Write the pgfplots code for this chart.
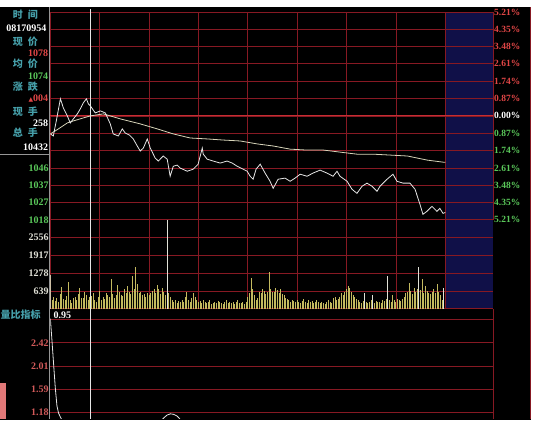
\documentclass[border=0pt]{standalone}
\usepackage{pgfplots}
\pgfplotsset{compat=1.18}
\usepackage{fontspec}
\setmainfont{Liberation Serif}
\newfontfamily\cjk{Noto Sans CJK SC}
\newfontfamily\sym{DejaVu Sans}

\definecolor{gridred}{RGB}{135,25,35}
\definecolor{gridhi}{RGB}{200,45,50}
\definecolor{navy}{RGB}{16,16,72}
\definecolor{upred}{RGB}{225,70,70}
\definecolor{dngreen}{RGB}{90,200,90}
\definecolor{cyanlab}{RGB}{70,160,170}
\definecolor{vol}{RGB}{195,185,95}
\definecolor{volwhite}{RGB}{225,225,215}
\definecolor{ltgray}{RGB}{150,150,150}
\definecolor{lowred}{RGB}{210,90,90}
\definecolor{pricew}{RGB}{230,230,230}
\definecolor{avgline}{RGB}{215,212,185}
\definecolor{pinkbox}{RGB}{225,120,120}

\pgfplotsset{
  panel/.style={
    scale only axis, width=443pt, anchor=south west,
    xmin=0, xmax=269,
    axis line style={draw=none}, tick style={draw=none},
    xtick={0,30,...,240}, xticklabel=\empty,
    grid=major, major grid style={gridred, line width=0.7pt},
    ticklabel style={font=\fontsize{10}{10}\selectfont\bfseries},
    yticklabel style={inner xsep=1.5pt},
  },
}

\begin{document}
\begin{tikzpicture}[x=1pt,y=1pt]
\fill[white] (0,0) rectangle (536,423);
\fill[black] (0,3) rectangle (531,416);

% dark blue block after the close
\begin{axis}[scale only axis, width=443pt, height=297pt, at={(50pt,114pt)},
  anchor=south west, xmin=0, xmax=269, ymin=0, ymax=1, hide axis]
\addplot[fill=navy, draw=none] coordinates {(240,0) (269,0) (269,1) (240,1)} -- cycle;
\end{axis}

% price panel
\begin{axis}[panel, height=208pt, at={(50pt,203pt)},
  ymin=1018.04, ymax=1129.96,
  ytick={1018.04,1027.28,1036.62,1045.97,1055.31,1064.66,1074,1083.34,1092.69,1102.03,1111.38,1120.72,1129.96},
  yticklabels={1018,1027,1037,1046,{},{},{},{},{},{},{},{},{}},
  yticklabel style={color=dngreen},
  extra y ticks={1018.04,1074}, extra y tick labels={},
  extra y tick style={grid=major, major grid style={gridhi, line width=1.1pt}, tick style={draw=none}}]
% average price
\addplot[color=avgline, line width=0.8pt] coordinates {
(0,1064.3) (4.9,1067.0) (10.3,1070.2) (14.0,1071.3) (20.0,1072.9) (24.3,1074.0)
(32.2,1075.1) (36.4,1074.0) (42.5,1072.4) (54.6,1069.7) (65.0,1067.0) (74.7,1064.3)
(85.0,1062.1) (95.3,1061.6) (105.0,1061.0) (115.4,1060.5) (125.8,1058.9) (135.4,1057.8)
(145.7,1056.1) (156.0,1055.6) (166.0,1055.6) (176.0,1054.5) (186.3,1053.4) (196.0,1053.4)
(206.6,1052.9) (217.0,1052.4) (223.0,1051.3) (229.0,1050.2) (238.6,1049.1) (240,1049.0)
};
% last price
\addplot[color=pricew, line width=0.8pt] coordinates {
(0,1064.3) (1.8,1063.2) (3.6,1071.3) (6.1,1083.2) (7.9,1078.3) (10.3,1074.0) (12.1,1070.2)
(14.0,1072.4) (16.4,1075.1) (18.2,1077.8) (20.0,1081.0) (21.9,1083.2) (23.1,1080.5)
(24.3,1079.4) (27.3,1075.6) (30.4,1076.7) (33.4,1075.6) (36.4,1069.7) (38.2,1064.3)
(41.3,1063.2) (43.7,1067.0) (45.5,1064.8) (48.0,1063.7) (50.4,1061.6) (52.8,1057.8)
(54.6,1055.1) (56.5,1056.7) (58.9,1061.6) (60.7,1056.7) (63.7,1051.3) (65.6,1049.7)
(68.6,1052.4) (71.0,1050.7) (72.8,1041.5) (74.7,1046.9) (77.1,1047.5) (78.9,1045.9)
(83.2,1044.2) (86.8,1045.3) (89.8,1048.0) (92.3,1056.7) (92.9,1053.4) (95.3,1050.7)
(98.9,1049.7) (103.2,1048.6) (107.4,1049.7) (110.5,1048.6) (113.5,1046.9) (117.2,1045.3)
(119.6,1044.2) (121.4,1041.5) (123.2,1039.9) (125.0,1045.3) (127.5,1048.0) (130.5,1043.2)
(133.5,1038.8) (135.4,1035.0) (138.4,1039.9) (142.6,1040.5) (145.7,1038.8) (148.7,1040.5)
(151.8,1042.6) (156.0,1041.5) (159.6,1043.2) (163.9,1044.8) (168.1,1043.2) (171.8,1041.5)
(174.2,1044.2) (176.0,1041.5) (180.3,1038.8) (183.3,1034.5) (186.3,1032.3) (189.4,1036.1)
(192.4,1037.8) (195.5,1036.1) (198.5,1033.4) (200.3,1036.1) (204.6,1039.9) (208.2,1042.6)
(210.6,1038.8) (214.3,1037.8) (218.5,1037.8) (221.6,1034.5) (224.6,1026.4) (226.4,1021.0)
(228.8,1022.6) (231.9,1025.3) (234.9,1022.6) (236.7,1024.2) (238.6,1021.5) (240,1022.0)
};
\end{axis}

% percent scale on the right
\begin{axis}[scale only axis, width=443pt, height=208pt, at={(50pt,203pt)},
  anchor=south west, xmin=0, xmax=269, ymin=1018.04, ymax=1129.96,
  axis x line=none, axis y line*=right,
  axis line style={gridred, line width=0.8pt}, tick style={draw=none},
  ytick={1018.04,1027.28,1036.62,1045.97,1055.31,1064.66,1074,1083.34,1092.69,1102.03,1111.38,1120.72,1129.96},
  yticklabels={{\color{dngreen}5.21\%},{\color{dngreen}4.35\%},{\color{dngreen}3.48\%},
    {\color{dngreen}2.61\%},{\color{dngreen}1.74\%},{\color{dngreen}0.87\%},
    {\color{white}0.00\%},{\color{upred}0.87\%},{\color{upred}1.74\%},{\color{upred}2.61\%},
    {\color{upred}3.48\%},{\color{upred}4.35\%},{\color{upred}5.21\%}},
  yticklabel style={font=\fontsize{9.5}{10}\selectfont\bfseries, inner xsep=1pt}]
\end{axis}

% volume panel
\begin{axis}[panel, height=89pt, at={(50pt,114pt)},
  ymin=0, ymax=3195,
  ytick={0,639,1278,1917,2556,3195}, yticklabels={{},639,1278,1917,2556,{}},
  yticklabel style={color=volwhite}]
\addplot[ycomb, color=vol, line width=1pt] coordinates {
(0,1200) (1,300) (2,420) (3,280) (4,380) (5,260) (6,520) (7,770) (8,350) (9,300)
(10,450) (11,950) (12,300) (13,220) (14,380) (15,420) (16,300) (17,520) (18,760) (19,400)
(20,380) (21,600) (22,480) (23,320) (24,420) (25,460) (26,560) (27,300) (28,260) (29,420)
(30,650) (31,300) (32,420) (33,360) (34,580) (35,480) (36,420) (37,1060) (38,540) (39,380)
(40,500) (41,840) (42,620) (43,500) (44,460) (45,720) (46,560) (47,800) (48,620) (49,540)
(50,1170) (51,700) (52,1500) (53,900) (54,560) (55,620) (56,480) (57,520) (58,440) (59,580)
(60,500) (61,560) (62,640) (63,720) (64,580) (65,840) (66,700) (67,520) (68,760) (69,600)
(70,480) (71,3180) (72,560) (73,420) (74,300) (75,260) (76,320) (77,220) (78,280) (79,240)
(80,300) (81,260) (82,420) (83,620) (84,300) (85,260) (86,380) (87,560) (88,420) (89,300)
(90,240) (91,280) (92,220) (93,320) (94,260) (95,200) (96,240) (97,300) (98,180) (99,220)
(100,260) (101,200) (102,280) (103,240) (104,220) (105,180) (106,260) (107,300) (108,200) (109,240)
(110,220) (111,260) (112,180) (113,240) (114,300) (115,220) (116,200) (117,260) (118,180) (119,240)
(120,420) (121,560) (122,1100) (123,700) (124,480) (125,320) (126,380) (127,600) (128,560) (129,700)
(130,640) (131,520) (132,600) (133,1310) (134,700) (135,620) (136,600) (137,760) (138,680) (139,580)
(140,720) (141,540) (142,480) (143,400) (144,360) (145,300) (146,260) (147,320) (148,280) (149,240)
(150,300) (151,260) (152,220) (153,280) (154,340) (155,260) (156,220) (157,300) (158,240) (159,280)
(160,220) (161,260) (162,300) (163,240) (164,200) (165,260) (166,220) (167,180) (168,240) (169,300)
(170,260) (171,220) (172,380) (173,420) (174,300) (175,360) (176,420) (177,560) (178,480) (179,600)
(180,720) (181,820) (182,760) (183,600) (184,500) (185,420) (186,360) (187,300) (188,260) (189,220)
(190,280) (191,580) (192,240) (193,200) (194,260) (195,300) (196,480) (197,220) (198,280) (199,240)
(200,260) (201,220) (202,300) (203,280) (204,360) (205,1170) (206,320) (207,260) (208,480) (209,300)
(210,260) (211,340) (212,300) (213,280) (214,360) (215,420) (216,560) (217,620) (218,910) (219,640)
(220,520) (221,760) (222,600) (223,700) (224,1500) (225,680) (226,1060) (227,560) (228,820) (229,640)
(230,580) (231,520) (232,600) (233,700) (234,560) (235,880) (236,620) (237,480) (238,300) (239,760)
};
\addplot[ycomb, color=volwhite, line width=1pt] coordinates {
(0,1200) (71,3180) (191,580) (196,480) (205,1170) (224,1500) (239,760)
};
\end{axis}

% volume ratio panel
\begin{axis}[panel, height=110pt, at={(50pt,4pt)},
  ymin=1.074, ymax=3.024, xmajorgrids=false,
  ytick={1.18,1.59,2.01,2.42,2.83}, yticklabels={1.18,1.59,2.01,2.42,{}},
  yticklabel style={color=lowred}]
\addplot[color=pricew, line width=0.8pt] coordinates {
(0,2.85) (1,2.45) (2,2.03) (3,1.62) (4,1.30) (5,1.17) (6,1.11) (7,1.05) (8,1.00)
(10,0.98) (20,0.95) (40,0.93) (60,0.95) (66,1.00) (69,1.09) (71,1.14) (73,1.16)
(75,1.15) (77,1.12) (79,1.06) (82,1.00) (100,0.97) (140,0.96) (200,0.95) (239,0.95)
};
\end{axis}

% borders and cursor
\draw[gridred, line width=0.8pt] (493,4) -- (493,114);
\draw[gridred, line width=1pt] (530,4) -- (530,416);
\draw[ltgray, line width=0.8pt] (49.5,4) -- (49.5,416);
\draw[ltgray, line width=0.8pt] (0,268) -- (49.5,268);
\draw[color=pricew, line width=1pt] (90,4) -- (90,414);
\fill[pinkbox] (0,4) rectangle (6,40);

% info panel
\begin{scope}[every node/.style={inner sep=0pt, font=\fontsize{10}{10}\selectfont\bfseries}]
\node[cyanlab] at (25,408) {\cjk 时\hspace{5pt}间};
\node[white] at (26,395) {08170954};
\node[cyanlab] at (25,381) {\cjk 现\hspace{5pt}价};
\node[upred, anchor=east] at (48,370) {1078};
\node[cyanlab] at (25,359) {\cjk 均\hspace{5pt}价};
\node[dngreen, anchor=east] at (48,347) {1074};
\node[cyanlab] at (25,336) {\cjk 涨\hspace{5pt}跌};
\node[upred, anchor=east] at (48,324) {{\sym\fontsize{6}{6}\selectfont▲}004};
\node[cyanlab] at (25,311) {\cjk 现\hspace{5pt}手};
\node[white, anchor=east] at (48,300) {258};
\node[cyanlab] at (25,290) {\cjk 总\hspace{5pt}手};
\node[white, anchor=east] at (48,276) {10432};
\node[cyanlab, anchor=west] at (0,108) {\cjk 量比指标};
\node[white, anchor=west] at (53,108) {0.95};
\end{scope}
\end{tikzpicture}
\end{document}
